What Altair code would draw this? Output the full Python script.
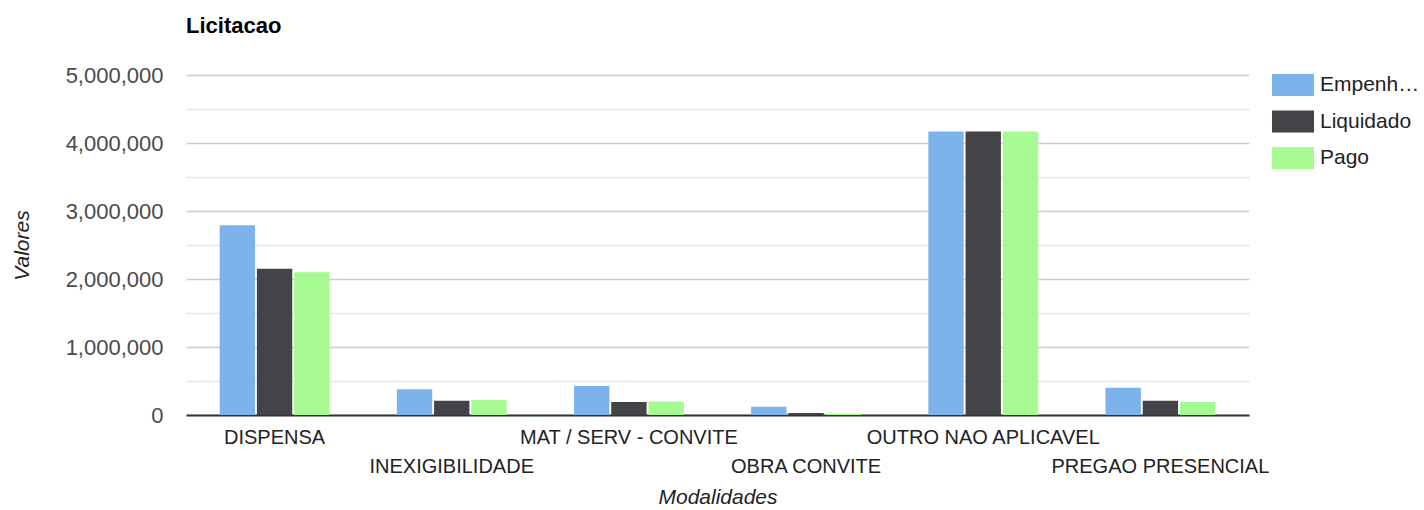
import altair as alt
import pandas as pd

# Modalidades (x categories) and the three value series
modalidades = [
    "DISPENSA",
    "INEXIGIBILIDADE",
    "MAT / SERV - CONVITE",
    "OBRA CONVITE",
    "OUTRO NAO APLICAVEL",
    "PREGAO PRESENCIAL",
]
series = ["Empenhado", "Liquidado", "Pago"]
empenhado = [2790000, 380000, 425000, 120000, 4170000, 400000]
liquidado = [2150000, 210000, 190000, 30000, 4170000, 210000]
pago = [2100000, 220000, 200000, 18000, 4170000, 190000]
colors = ["#7bb3ea", "#434348", "#a6fa91"]
y_ticks = [0, 500000, 1000000, 1500000, 2000000, 2500000,
           3000000, 3500000, 4000000, 4500000, 5000000]

rows = []
for name, vals in zip(series, [empenhado, liquidado, pago]):
    for cat, v in zip(modalidades, vals):
        rows.append({"Modalidade": cat, "Serie": name, "Valor": v})
df = pd.DataFrame(rows)

# every second category label drops to a second line
second_row = modalidades[1::2]
second_row_js = "[" + ",".join("'" + c + "'" for c in second_row) + "]"
x_label_expr = f"indexof({second_row_js}, datum.value) >= 0 ? ['', datum.label] : datum.label"

FONT = "Liberation Sans"

chart = (
    alt.Chart(df)
    .mark_bar()
    .encode(
        x=alt.X(
            "Modalidade:N",
            sort=modalidades,
            scale=alt.Scale(paddingInner=0.38, paddingOuter=0.19),
            axis=alt.Axis(
                title="Modalidades",
                titleFontStyle="italic",
                titleFontWeight="normal",
                titleFontSize=21,
                titleColor="#222222",
                titleFont=FONT,
                titleBaseline="middle",
                titleY=82,
                labelAngle=0,
                labelFontSize=20,
                labelFont=FONT,
                labelColor="#222222",
                labelPadding=12,
                labelLineHeight=29,
                labelOverlap=False,
                labelLimit=0,
                labelExpr=x_label_expr,
                ticks=False,
                domain=True,
                domainColor="#333333",
                domainWidth=2,
                grid=False,
            ),
        ),
        xOffset=alt.XOffset(
            "Serie:N",
            sort=series,
            scale=alt.Scale(paddingInner=0.05),
        ),
        y=alt.Y(
            "Valor:Q",
            scale=alt.Scale(domain=[0, 5000000], nice=False),
            axis=alt.Axis(
                title="Valores",
                titleFontStyle="italic",
                titleFontWeight="normal",
                titleFontSize=21,
                titleColor="#222222",
                titleFont=FONT,
                titleBaseline="middle",
                titleX=-164,
                titleY=170,
                values=y_ticks,
                labelExpr="datum.value % 1000000 === 0 ? format(datum.value, ',') : ''",
                labelFontSize=22,
                labelFont=FONT,
                labelColor="#4a4a4a",
                labelPadding=23,
                ticks=False,
                domain=False,
                grid=True,
                gridColor={
                    "condition": {"test": "datum.value % 1000000 === 0", "value": "#cccccc"},
                    "value": "#e6e6e6",
                },
                gridWidth=1.5,
            ),
        ),
        color=alt.Color(
            "Serie:N",
            sort=series,
            scale=alt.Scale(domain=series, range=colors),
            legend=alt.Legend(
                title=None,
                orient="none",
                legendX=1089,
                legendY=-8,
                padding=0,
                symbolType="M-1.167,-0.611H1.167V0.611H-1.167Z",
                symbolSize=1296,
                symbolStrokeWidth=0,
                symbolOpacity=1,
                labelFontSize=21,
                labelFont=FONT,
                labelColor="#222222",
                labelOffset=9,
                labelLimit=104,
                rowPadding=7.5,
            ),
        ),
    )
    .properties(
        width=1063,
        height=340,
        title=alt.TitleParams(
            "Licitacao",
            anchor="start",
            frame="group",
            fontSize=22,
            fontWeight="bold",
            font=FONT,
            color="#000000",
            baseline="alphabetic",
            offset=9,
        ),
        autosize=alt.AutoSizeParams(type="none"),
        padding={"left": 186, "top": 75, "right": 175, "bottom": 95},
        background="white",
    )
    .configure_view(stroke=None)
)

chart.save("out.html", embed_options={"renderer": "svg", "actions": False})
